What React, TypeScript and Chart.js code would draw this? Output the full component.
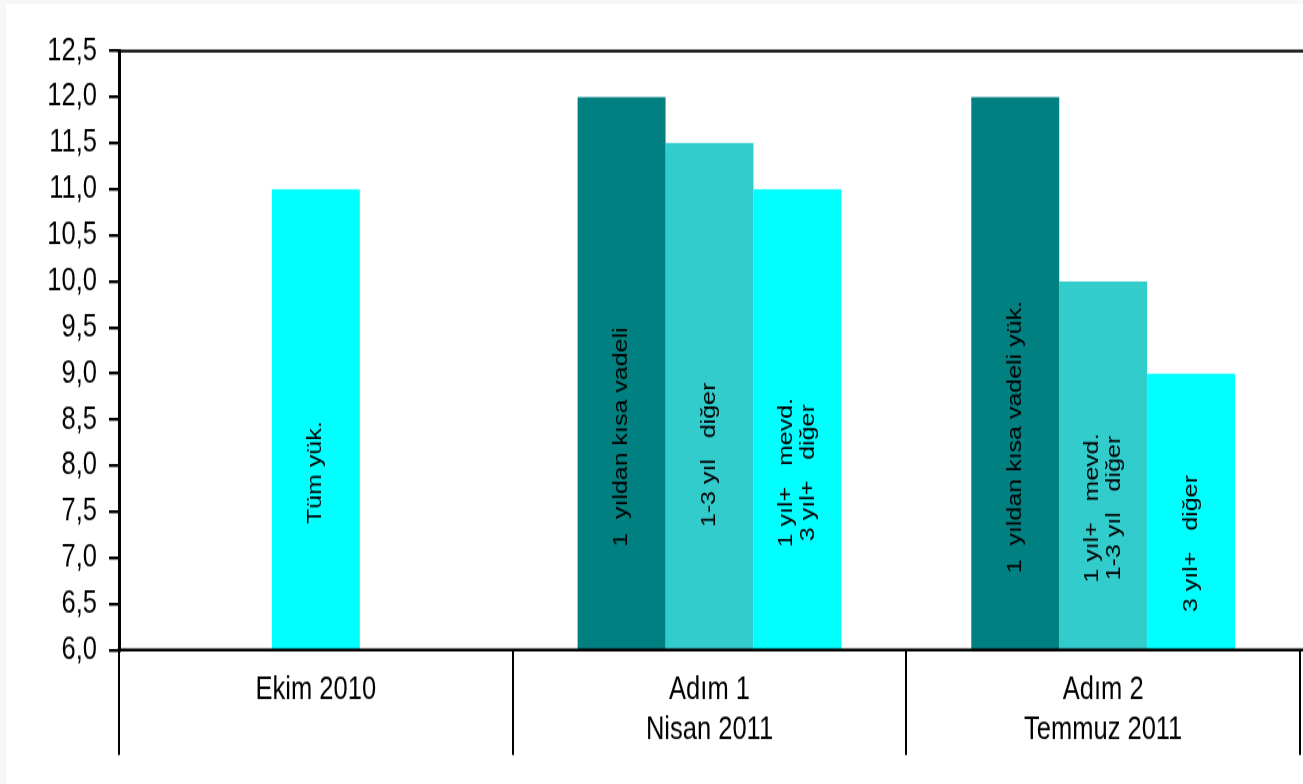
import React, { useEffect, useRef } from 'react';
import { Chart, registerables } from 'chart.js';

Chart.register(...registerables);

const categories: string[][] = [['Ekim 2010'], ['Adım 1', 'Nisan 2011'], ['Adım 2', 'Temmuz 2011']];

const firstBar: (number | null)[] = [null, 12.0, 12.0];
const middleBar: (number | null)[] = [11.0, 11.5, 10.0];
const lastBar: (number | null)[] = [null, 11.0, 9.0];

const firstLabels: string[][] = [[], ['1  yıldan kısa vadeli'], ['1  yıldan kısa vadeli yük.']];
const middleLabels: string[][] = [['Tüm yük.'], ['1-3 yıl   diğer'], ['1 yıl+   mevd.', '1-3 yıl   diğer']];
const lastLabels: string[][] = [[], ['1 yıl+   mevd.', '3 yıl+   diğer'], ['3 yıl+   diğer']];

const yMin = 6;
const yMax = 12.5;
const yStep = 0.5;

const DARK = '#008080';
const MID = '#33CCCC';
const CYAN = '#00FFFF';

// The chart is drawn on a canvas that is stretched vertically by CSS (like the reference)
const W = 1297;
const H_CSS = 780;
const STRETCH = 1.25;
const H = Math.round(H_CSS / STRETCH);

const barLabels = [firstLabels, middleLabels, lastLabels];
const FONT = '"Liberation Sans", Arial, sans-serif';

const labelPlugin = {
  id: 'barTextLabels',
  afterDatasetsDraw(chart: any) {
    const ctx = chart.ctx;
    const bottom = chart.chartArea.bottom;
    chart.data.datasets.forEach((_ds: any, d: number) => {
      const meta = chart.getDatasetMeta(d);
      meta.data.forEach((bar: any, i: number) => {
        const lines = barLabels[d][i];
        if (!lines || lines.length === 0) return;
        const p = bar.getProps(['x', 'y', 'base'], true);
        const base = Math.min(p.base, bottom);
        const cy = base - 0.385 * (base - p.y);
        ctx.save();
        ctx.translate(p.x, cy);
        ctx.rotate(-Math.PI / 2);
        ctx.font = '20px ' + FONT;
        ctx.fillStyle = '#000';
        ctx.textAlign = 'center';
        ctx.textBaseline = 'middle';
        const n = lines.length;
        lines.forEach((ln, k) => ctx.fillText(ln, 0, (k - (n - 1) / 2) * 22));
        ctx.restore();
      });
    });
  },
};

const framePlugin = {
  id: 'frameLines',
  afterDraw(chart: any) {
    const ctx = chart.ctx;
    const a = chart.chartArea;
    ctx.save();
    ctx.strokeStyle = '#000';
    ctx.lineWidth = 3 / STRETCH;
    ctx.beginPath();
    ctx.moveTo(a.left - 1.5, a.top);
    ctx.lineTo(chart.width, a.top);
    ctx.moveTo(a.left - 1.5, a.bottom);
    ctx.lineTo(chart.width, a.bottom);
    ctx.stroke();
    ctx.restore();
  },
};

export default function App() {
  const ref = useRef<HTMLCanvasElement | null>(null);
  useEffect(() => {
    if (!ref.current) return;
    const chart = new Chart(ref.current, {
      type: 'bar',
      data: {
        labels: categories,
        datasets: [
          { data: firstBar, backgroundColor: DARK },
          { data: middleBar, backgroundColor: [CYAN, MID, MID] },
          { data: lastBar, backgroundColor: CYAN },
        ],
      },
      options: {
        responsive: false,
        animation: false,
        devicePixelRatio: 1,
        layout: { padding: { top: 47 / STRETCH, right: 3, left: 0, bottom: 0 } },
        plugins: { legend: { display: false }, tooltip: { enabled: false } },
        datasets: { bar: { categoryPercentage: 0.67, barPercentage: 1.0 } },
        scales: {
          x: {
            offset: true,
            grid: { offset: true, drawOnChartArea: false, drawTicks: true, tickLength: 84, lineWidth: 2, color: '#000' },
            border: { display: false },
            ticks: {
              color: '#000',
              padding: -68,
              maxRotation: 0,
              font: { family: FONT, size: 25.5, lineHeight: 1.255 },
            },
            afterFit: (s: any) => { s.height = 134 / STRETCH; },
          },
          y: {
            min: yMin,
            max: yMax,
            grid: { drawOnChartArea: false, drawTicks: true, tickLength: 10, lineWidth: 3 / STRETCH, color: '#000' },
            border: { display: true, color: '#000', width: 3 },
            ticks: {
              stepSize: yStep,
              color: '#000',
              padding: 12,
              font: { family: FONT, size: 25.5 },
              callback: (v: any) => Number(v).toFixed(1).replace('.', ','),
            },
            afterFit: (s: any) => { s.width = 113; },
          },
        },
      },
      plugins: [labelPlugin, framePlugin],
    });
    return () => chart.destroy();
  }, []);
  return (
    <div style={{ position: 'absolute', left: 0, top: 0, width: 1303, height: 784, background: '#f7f7f7', overflow: 'hidden' }}>
      <div style={{ position: 'absolute', left: 6, top: 4, width: W, height: H_CSS, background: '#fff' }}>
        <canvas ref={ref} width={W} height={H} style={{ display: 'block', width: W + 'px', height: H_CSS + 'px' }} />
      </div>
    </div>
  );
}
